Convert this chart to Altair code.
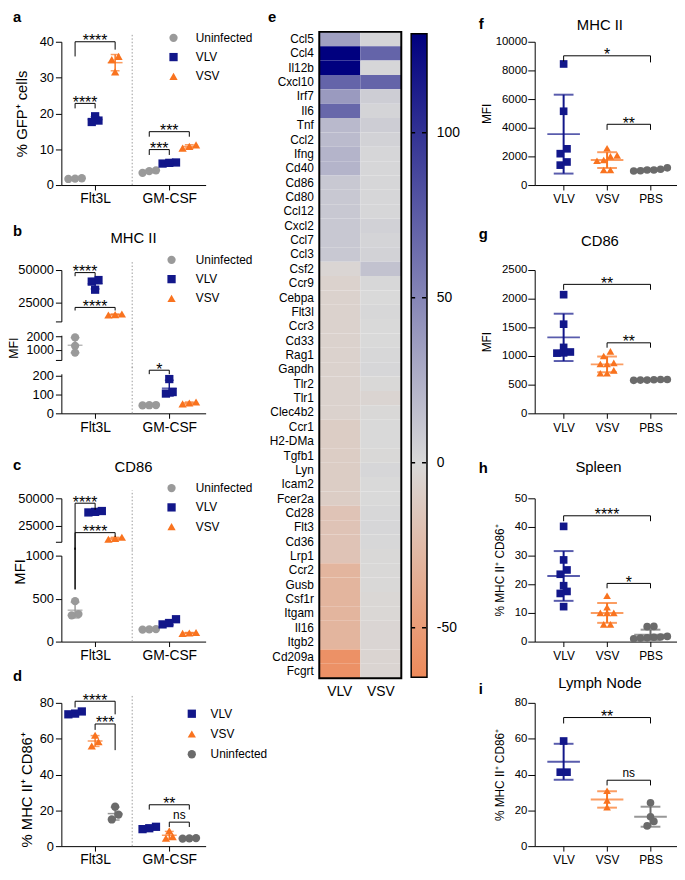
import altair as alt
import pandas as pd

FONT = "Liberation Sans"

# ================= values =================
GROUPS = ["Flt3L", "GM-CSF"]
ORDER_ABC = ["Uninfected", "VLV", "VSV"]
ORDER_D = ["VLV", "VSV", "Uninfected"]
MICE = ["VLV", "VSV", "PBS"]

# a: % GFP+ cells  (Flt3L replicates, GM-CSF replicates)
a_uninfected = ([1.7, 1.8, 1.9], [3.4, 3.9, 4.1])
a_vlv = ([19.2, 18.0, 17.6], [6.0, 6.2, 6.3])
a_vsv = ([35.9, 35.0, 31.6], [10.3, 10.8, 11.2])
a_brackets = [("Flt3L", "Uninfected", "VLV", 22.8, 21.4, 21.4, "****"),
              ("Flt3L", "Uninfected", "VSV", 40.0, 35.9, 37.8, "****"),
              ("GM-CSF", "Uninfected", "VLV", 9.9, 8.4, 8.4, "***"),
              ("GM-CSF", "Uninfected", "VSV", 14.9, 13.5, 13.5, "***")]

# b: MHC II MFI
b_uninfected = ([1940, 1310, 800], [44, 42, 43])
b_vlv = ([42200, 41000, 34700], [182, 113, 105])
b_vsv = ([15800, 15300, 15000], [60, 55, 50])
b_brackets = [("Flt3L", "Uninfected", "VLV", 48000, 45200, 45200, "****"),
              ("Flt3L", "Uninfected", "VSV", 20900, 18500, 18500, "****"),
              ("GM-CSF", "Uninfected", "VLV", 229, 208, 208, "*")]

# c: CD86 MFI
c_uninfected = ([470, 320, 305], [145, 140, 142])
c_vlv = ([38300, 37500, 37000], [260, 200, 215])
c_vsv = ([14200, 13000, 12300], [100, 106, 95])
c_brackets = [("Flt3L", "Uninfected", "VLV", 45500, 607, 39400, "****"),
              ("Flt3L", "Uninfected", "VSV", 18400, 607, 14400, "****")]

# d: % MHC II+ CD86+
d_vlv = ([75.2, 74.0, 73.6], [10.8, 10.0, 9.5])
d_vsv = ([61.9, 58.3, 55.9], [8.5, 5.3, 4.4])
d_uninfected = ([22.0, 17.6, 14.9], [4.5, 4.3, 4.2])
d_brackets = [("Flt3L", "VLV", "Uninfected", 80.9, 77.4, 73.6, "****"),
              ("Flt3L", "VSV", "Uninfected", 68.2, 64.9, 53.6, "***"),
              ("GM-CSF", "VLV", "Uninfected", 23.1, 20.4, 20.4, "**"),
              ("GM-CSF", "VSV", "Uninfected", 13.4, 10.7, 10.7, "ns")]

# e: heatmap
GENES = ["Ccl5", "Ccl4", "Il12b", "Cxcl10", "Irf7", "Il6", "Tnf", "Ccl2", "Ifng", "Cd40",
         "Cd86", "Cd80", "Ccl12", "Cxcl2", "Ccl7", "Ccl3", "Csf2", "Ccr9", "Cebpa", "Flt3l",
         "Ccr3", "Cd33", "Rag1", "Gapdh", "Tlr2", "Tlr1", "Clec4b2", "Ccr1", "H2-DMa", "Tgfb1",
         "Lyn", "Icam2", "Fcer2a", "Cd28", "Flt3", "Cd36", "Lrp1", "Ccr2", "Gusb", "Csf1r",
         "Itgam", "Il16", "Itgb2", "Cd209a", "Fcgrt"]
HEAT_VLV = [35, 130, 130, 70, 38, 68, 19, 18, 22, 22,
            10, 10, 10, 10, 10, 10, -3, -6, -6, -6,
            -6, -6, -6, -6, -6, -6, -6, -10, -10, -10,
            -10, -10, -10, -18, -18, -18, -18, -30, -30, -30,
            -30, -30, -30, -59, -59]
HEAT_VSV = [3, 70, 2, 70, 7, 3, 7, 4, 2, 2,
            2, 2, 2, 5, 3, 4, 14, 1, 0, 1,
            0, 0, 1, 2, -1, -4, -1, 0, 0, -1,
            2, 0, 0, 1, 2, 1, -1, -1, -1, -2,
            -2, -3, -3, -4, -4]
CB_DOMAIN = [-65, 130]
CB_TICKS = [-50, 0, 50, 100]

# f-i: in vivo
f_vlv = [8450, 5150, 2530, 2190, 1390, 1610]
f_vsv = [2570, 2070, 2000, 1750, 1700, 1050, 1050]
f_pbs = [1200, 1100, 1050, 1000, 980, 1050]
f_brackets = [("VLV", "PBS", 9020, 8630, 8560, "*"), ("VSV", "PBS", 4240, 3850, 3850, "**")]
g_vlv = [2070, 1555, 1150, 1070, 1050, 1055]
g_vsv = [1080, 1000, 880, 860, 860, 750, 700, 700]
g_pbs = [590, 580, 585, 575, 590, 580]
g_brackets = [("VLV", "PBS", 2250, 2155, 2155, "**"), ("VSV", "PBS", 1230, 1145, 1145, "**")]
h_vlv = [40.2, 28.5, 25.0, 23.5, 19.5, 17.5, 16.8, 12.2]
h_vsv = [16.0, 12.0, 10.0, 10.0, 10.0, 6.0, 6.0]
h_pbs = [5.3, 5.2, 1.8, 1.5, 1.3, 1.0, 1.2, 1.6]
h_brackets = [("VLV", "PBS", 43.9, 42.0, 42.0, "****"), ("VSV", "PBS", 20.3, 18.6, 18.6, "*")]
i_vlv = [58.7, 41.3, 41.3]
i_vsv = [30.9, 25.5, 21.8]
i_pbs = [24.2, 16.4, 13.8, 11.3]
i_brackets = [("VLV", "PBS", 71.8, 68.5, 68.5, "**"), ("VSV", "PBS", 36.8, 33.9, 33.9, "ns")]

# ================= styling / layout =================
NAVY, ORANGE = "#12178a", "#f9731f"
COLORS = {"Uninfected": "#9a9a9a", "VLV": NAVY, "VSV": ORANGE, "PBS": "#6b6b6b"}
COLORS_D = {"Uninfected": "#6b6b6b", "VLV": NAVY, "VSV": ORANGE}
SHAPES = {"Uninfected": "circle", "VLV": "square", "VSV": "triangle-up", "PBS": "circle"}
HEAT_RANGE = ["#ee8a5a", "#d9d9d9", "#00007f"]

PH = 145
GAP = 14
X_OFF = 0.27
LEFT = dict(width=146, xdom=[0.545, 2.49], xvals=[1, 2],
            xexpr="['Flt3L','GM-CSF'][datum.value - 1]", mean_w=15, cap_w=9, lw=1.5, pt=70,
            ytick=6, ylabpad=2, yfont=13, ytfont=15, xfont=14, xpad=2, sx=-54)
RIGHT = dict(width=144, xdom=[-0.666, 2.61], xvals=[0, 1, 2],
             xexpr="['VLV','VSV','PBS'][datum.value]", mean_w=33, cap_w=20, lw=2, pt=60,
             ytick=7, ylabpad=1, yfont=11.5, ytfont=12, xfont=12, xpad=4, sx=-67)

SP = pd.DataFrame({"k": [0]})


def txt(s, x, y, size, weight="normal", align="left"):
    return alt.Chart(SP).mark_text(text=s, font=FONT, fontSize=size, fontWeight=weight, align=align,
                                   baseline="alphabetic", color="black").encode(x=alt.value(x), y=alt.value(y))


def spacer(x, y, baseline="top"):
    return alt.Chart(SP).mark_text(text=" ", fontSize=1, align="left", baseline=baseline).encode(
        x=alt.value(x), y=alt.value(y))


def seg_index(y, segs):
    for i, s in enumerate(segs):
        if y >= s["lo"]:
            return i
    return len(segs) - 1


def split_vertical(x, ya, yb, segs):
    lo_v, hi_v = min(ya, yb), max(ya, yb)
    ia, ib = seg_index(lo_v, segs), seg_index(hi_v, segs)
    rows = []
    for i in range(ib, ia + 1):
        s = segs[i]
        ext = (GAP / 2 + 1) * (s["hi"] - s["lo"]) / s["h"]
        y1 = lo_v if i == ia else s["lo"] - ext
        y2 = hi_v if i == ib else s["hi"] + ext
        rows.append((i, x, y1, y2))
    return rows


def swarm(vals, ppu, xunit, dot=8.0):
    order = sorted(range(len(vals)), key=lambda k: vals[k])
    bins, cur = [], [order[0]]
    for k in order[1:]:
        if (vals[k] - vals[cur[0]]) * ppu < dot * 0.7:
            cur.append(k)
        else:
            bins.append(cur)
            cur = [k]
    bins.append(cur)
    off = [0.0] * len(vals)
    for b in bins:
        n = len(b)
        for j, k in enumerate(b):
            off[k] = (j - (n - 1) / 2) * dot * 0.85 / xunit
    return off


def left_x(group, cond, order):
    return GROUPS.index(group) + 1 + (order.index(cond) - 1) * X_OFF


def frames(entries, colors, segs, style, brk, sep_x=None):
    xunit = style["width"] / (style["xdom"][1] - style["xdom"][0])
    P, S, C = [], [], []
    for x0, vals, cond in entries:
        s = pd.Series(vals, dtype=float)
        m, sd = s.mean(), s.std()
        si = seg_index(m, segs)
        ppu = segs[si]["h"] / (segs[si]["hi"] - segs[si]["lo"])
        offs = swarm(vals, ppu, xunit)
        for v, o in zip(vals, offs):
            P.append(dict(seg=seg_index(v, segs), xp=x0 + o, v=v, cond=cond))
        S.append(dict(seg=si, x=x0, mean=m, lo=m - sd, hi=m + sd, col=colors[cond]))
        C.append(dict(seg=si, x=x0, yv=m - sd, col=colors[cond]))
        C.append(dict(seg=si, x=x0, yv=m + sd, col=colors[cond]))
    HB, LG, LB = [], [], []
    for x1, x2, y, e1, e2, lab in brk:
        si = seg_index(y, segs)
        HB.append(dict(seg=si, x1=x1, x2=x2, y=y))
        LB.append(dict(seg=si, xm=(x1 + x2) / 2, y=y, label=lab))
        for xx, ee in ((x1, e1), (x2, e2)):
            for sj, xv, y1, y2 in split_vertical(xx, ee, y, segs):
                LG.append(dict(seg=sj, x=xv, y1=y1, y2=y2))
    SEP = []
    if sep_x is not None:
        top = segs[0]
        ytop = top["hi"] + 8 * (top["hi"] - top["lo"]) / top["h"]
        for sj, xv, y1, y2 in split_vertical(sep_x, segs[-1]["lo"], ytop, segs):
            SEP.append(dict(seg=sj, x=xv, y1=y1, y2=y2))
    return {k: pd.DataFrame(v) for k, v in
            dict(P=P, S=S, C=C, HB=HB, LG=LG, LB=LB, SEP=SEP).items()}


def panel(fr, segs, style, order, colors, legend, ytitle, ytitle_seg, ytitle_x, ytitle_y,
          texts, top_y, bottom_pad, extra=(), ytfont=None):
    charts = []
    n = len(segs)
    for si, s in enumerate(segs):
        ysc = alt.Scale(domain=[s["lo"], s["hi"]], nice=False, zero=False)
        xsc = alt.Scale(domain=style["xdom"], nice=False, zero=False)
        if si == n - 1:
            xax = alt.Axis(values=style["xvals"], labelExpr=style["xexpr"], title=None, tickSize=5,
                           labelPadding=style["xpad"], labelFontSize=style["xfont"], labelAngle=0)
        else:
            xax = None
        kw = dict(values=s["ticks"], format="d", tickSize=style["ytick"], labelPadding=style["ylabpad"],
                  labelFontSize=s.get("yfont", style["yfont"]))
        if s.get("hidden"):
            kw["labelExpr"] = " || ".join(f"datum.value == {h}" for h in s["hidden"]) + " ? '' : datum.label"
        if si == ytitle_seg:
            kw.update(title=ytitle, titleFontSize=ytfont or style["ytfont"], titleX=ytitle_x,
                      titleFontWeight="normal")
            if ytitle_y is not None:
                kw["titleY"] = ytitle_y
        else:
            kw["title"] = None
        yax = alt.Axis(**kw)

        def X(f):
            return alt.X(f, type="quantitative", scale=xsc, axis=xax)

        def Y(f):
            return alt.Y(f, type="quantitative", scale=ysc, axis=yax)

        def sub(name):
            df = fr[name]
            if df.empty:
                return None
            d = df[df.seg == si]
            return None if d.empty else d

        L = []
        d = sub("SEP")
        if d is not None:
            L.append(alt.Chart(d).mark_rule(color="#9a9a9a", strokeWidth=1, strokeDash=[1.5, 2]).encode(
                x=X("x"), y=Y("y1"), y2="y2"))
        d = sub("P")
        leg = legend if si == 0 else None
        L.append(alt.Chart(d).mark_point(filled=True, size=style["pt"], opacity=1).encode(
            x=X("xp"), y=Y("v"),
            color=alt.Color("cond:N", scale=alt.Scale(domain=order, range=[colors[c] for c in order]), legend=leg),
            shape=alt.Shape("cond:N", scale=alt.Scale(domain=order, range=[SHAPES[c] for c in order]), legend=leg)))
        d = sub("S")
        if d is not None:
            L.append(alt.Chart(d).mark_rule(strokeWidth=style["lw"]).encode(
                x=X("x"), y=Y("lo"), y2="hi", color=alt.Color("col:N", scale=None)))
            L.append(alt.Chart(d).mark_tick(orient="horizontal", size=style["mean_w"], thickness=style["lw"]).encode(
                x=X("x"), y=Y("mean"), color=alt.Color("col:N", scale=None)))
        d = sub("C")
        if d is not None:
            L.append(alt.Chart(d).mark_tick(orient="horizontal", size=style["cap_w"], thickness=style["lw"]).encode(
                x=X("x"), y=Y("yv"), color=alt.Color("col:N", scale=None)))
        d = sub("HB")
        if d is not None:
            L.append(alt.Chart(d).mark_rule(color="black", strokeWidth=1).encode(x=X("x1"), x2="x2", y=Y("y")))
        d = sub("LG")
        if d is not None:
            L.append(alt.Chart(d).mark_rule(color="black", strokeWidth=1).encode(x=X("x"), y=Y("y1"), y2="y2"))
        d = sub("LB")
        if d is not None:
            stars = d[d.label != "ns"]
            ns = d[d.label == "ns"]
            if not stars.empty:
                L.append(alt.Chart(stars).mark_text(font=FONT, fontSize=16, dy=4.4, align="center",
                                                    baseline="alphabetic", color="black").encode(
                    x=X("xm"), y=Y("y"), text="label:N"))
            if not ns.empty:
                L.append(alt.Chart(ns).mark_text(font=FONT, fontSize=12, dy=-3.5, align="center",
                                                 baseline="alphabetic", color="black").encode(
                    x=X("xm"), y=Y("y"), text="label:N"))
        if si == 0:
            for t in texts:
                L.append(txt(*t))
            L.append(spacer(style["sx"], top_y))
            for ex in extra:
                L.append(spacer(*ex))
        if si == n - 1:
            L.append(spacer(style["sx"], s["h"] + bottom_pad, baseline="bottom"))
        charts.append(alt.layer(*L).properties(width=style["width"], height=s["h"]))
    if n == 1:
        return charts[0]
    return alt.vconcat(*charts, spacing=GAP, bounds="flush").resolve_scale(
        color="independent", shape="independent", x="independent", y="independent")


def legend(lx, ly, off, rp=7.5):
    return alt.Legend(orient="none", legendX=lx, legendY=ly, title=None, labelFontSize=12, labelFont=FONT,
                      labelColor="black", symbolSize=70, symbolStrokeWidth=0, rowPadding=rp,
                      labelOffset=off, padding=0)


def left_panel(series, order, colors, brk, segs, leg, ytitle, yseg, yx, yy, texts, top_y, bottom_pad,
               extra=(), ytfont=None):
    entries = []
    for cond in order:
        for gi, vals in enumerate(series[cond]):
            entries.append((left_x(GROUPS[gi], cond, order), vals, cond))
    b = [(left_x(g, c1, order), left_x(g, c2, order), y, e1, e2, lab) for g, c1, c2, y, e1, e2, lab in brk]
    fr = frames(entries, colors, segs, LEFT, b, sep_x=1.5)
    return panel(fr, segs, LEFT, order, colors, leg, ytitle, yseg, yx, yy, texts, top_y, bottom_pad, extra,
                 ytfont)


def right_panel(series, brk, segs, ytitle, yx, texts, top_y, bottom_pad):
    entries = [(MICE.index(c), series[c], c) for c in MICE]
    b = [(MICE.index(c1), MICE.index(c2), y, e1, e2, lab) for c1, c2, y, e1, e2, lab in brk]
    fr = frames(entries, COLORS, segs, RIGHT, b)
    return panel(fr, segs, RIGHT, MICE, COLORS, None, ytitle, 0, yx, None, texts, top_y, bottom_pad)


SUP = "\u207a"
Y_PCT = f"% MHC II{SUP} CD86{SUP}"

# ---------- left column ----------
pa = left_panel({"Uninfected": a_uninfected, "VLV": a_vlv, "VSV": a_vsv}, ORDER_ABC, COLORS, a_brackets,
                [dict(lo=0, hi=40, h=PH, ticks=[0, 10, 20, 30, 40])],
                legend(107.5, -10, 16.5), f"% GFP{SUP} cells", 0, -32, None,
                [("a", -49, -20, 15, "bold")], -36, 24, extra=[(207, 0)])
pb = left_panel({"Uninfected": b_uninfected, "VLV": b_vlv, "VSV": b_vsv}, ORDER_ABC, COLORS, b_brackets,
                [dict(lo=10000, hi=50000, h=52, ticks=[10000, 25000, 50000], hidden=[10000]),
                 dict(lo=250, hi=2100, h=25, ticks=[250, 1000, 2000], hidden=[250], yfont=12.5),
                 dict(lo=0, hi=210, h=40, ticks=[0, 100, 200])],
                legend(105.5, -16.3, 18.5), "MFI", 1, -41, None,
                [("b", -49, -34.5, 15, "bold"), ("MHC II", 73, -27.3, 15, "normal", "center")], -62, 24,
                ytfont=12.5)
pc = left_panel({"Uninfected": c_uninfected, "VLV": c_vlv, "VSV": c_vsv}, ORDER_ABC, COLORS, c_brackets,
                [dict(lo=10000, hi=50000, h=44, ticks=[10000, 25000, 50000], hidden=[10000]),
                 dict(lo=0, hi=1000, h=87, ticks=[0, 500, 1000])],
                legend(105.5, -16.3, 18.5), "MFI", 1, -34, 16,
                [("c", -49, -29, 15, "bold"), ("CD86", 73, -26.3, 15, "normal", "center")], -62, 24)
pd_ = left_panel({"VLV": d_vlv, "VSV": d_vsv, "Uninfected": d_uninfected}, ORDER_D, COLORS_D, d_brackets,
                 [dict(lo=0, hi=80, h=PH, ticks=[0, 20, 40, 60, 80])],
                 legend(126, 5, 13, 8.5), Y_PCT, 0, -27, PH / 2 + 15,
                 [("d", -49, -22.5, 15, "bold")], -38, 21)
left_col = alt.vconcat(pa, pb, pc, pd_, spacing=0).resolve_scale(
    color="independent", shape="independent", x="independent", y="independent")

# ---------- middle: heatmap ----------
# plot origin is aligned with the first row of panels; the heatmap starts 10 px above it
HW, HH, HTOP = 83, 644, -10
heat_df = pd.DataFrame({"gene": GENES + GENES,
                        "cond": ["VLV"] * len(GENES) + ["VSV"] * len(GENES),
                        "val": HEAT_VLV + HEAT_VSV})
cscale = alt.Scale(domain=[CB_DOMAIN[0], 0, CB_DOMAIN[1]], range=HEAT_RANGE, interpolate="rgb", clamp=True)
heat = alt.Chart(heat_df).mark_rect(strokeWidth=0).encode(
    x=alt.X("cond:N", sort=["VLV", "VSV"], scale=alt.Scale(paddingInner=0, paddingOuter=0),
            axis=alt.Axis(title=None, labelAngle=0, ticks=False, domain=False, labelFontSize=14, labelPadding=7)),
    y=alt.Y("gene:N", sort=GENES, scale=alt.Scale(paddingInner=0, paddingOuter=0, range=[HTOP, HH]),
            axis=alt.Axis(title=None, ticks=False, domain=False, labelFontSize=12, labelPadding=6)),
    color=alt.Color("val:Q", scale=cscale, legend=None))
border = alt.Chart(SP).mark_rect(filled=False, stroke="black", strokeWidth=2).encode(
    x=alt.value(0), x2=alt.value(HW), y=alt.value(HTOP), y2=alt.value(HH))
zero_off = (0 - CB_DOMAIN[0]) / (CB_DOMAIN[1] - CB_DOMAIN[0])
grad = alt.LinearGradient(gradient="linear", x1=0, x2=0, y1=1, y2=0,
                          stops=[alt.GradientStop(color=HEAT_RANGE[0], offset=0),
                                 alt.GradientStop(color=HEAT_RANGE[1], offset=zero_off),
                                 alt.GradientStop(color=HEAT_RANGE[2], offset=1)])
cbs = alt.Scale(domain=CB_DOMAIN, range=[HH - 1, HTOP + 2], nice=False, zero=False)
cbar = alt.Chart(pd.DataFrame({"lo": [CB_DOMAIN[0]], "hi": [CB_DOMAIN[1]]})).mark_rect(
    fill=grad, stroke="black", strokeWidth=1.5).encode(
    x=alt.value(93), x2=alt.value(109), y=alt.Y("lo:Q", scale=cbs, axis=None), y2="hi:Q")
tick_df = pd.DataFrame({"t": CB_TICKS, "lab": [str(t) for t in CB_TICKS]})
cticks = alt.Chart(tick_df).mark_rule(color="black", strokeWidth=1.5, strokeDash=[4, 7]).encode(
    x=alt.value(93), x2=alt.value(109), y=alt.Y("t:Q", scale=cbs, axis=None))
clabels = alt.Chart(tick_df).mark_text(font=FONT, fontSize=14, align="left", baseline="middle",
                                       color="black").encode(
    x=alt.value(119), y=alt.Y("t:Q", scale=cbs, axis=None), text="lab:N")
mid_layer = alt.layer(heat, border, cbar, cticks, clabels, txt("e", -52, -20, 15, "bold"),
                      spacer(-52, -30), spacer(151, -30)).resolve_scale(y="independent").properties(
    width=HW, height=HH)
mid = alt.vconcat(mid_layer, spacing=0)

# ---------- right column ----------
pf = right_panel({"VLV": f_vlv, "VSV": f_vsv, "PBS": f_pbs}, f_brackets,
                 [dict(lo=0, hi=10000, h=PH, ticks=[0, 2000, 4000, 6000, 8000, 10000])], "MFI", -42,
                 [("f", -56.5, -13.2, 15, "bold"), ("MHC II", 66, -11.6, 15, "normal", "center")], -36, 24)
pg = right_panel({"VLV": g_vlv, "VSV": g_vsv, "PBS": g_pbs}, g_brackets,
                 [dict(lo=0, hi=2500, h=PH, ticks=[0, 500, 1000, 1500, 2000, 2500])], "MFI", -42,
                 [("g", -56.5, -31, 15, "bold"), ("CD86", 66, -24.3, 15, "normal", "center")], -62, 24)
ph = right_panel({"VLV": h_vlv, "VSV": h_vsv, "PBS": h_pbs}, h_brackets,
                 [dict(lo=0, hi=50, h=PH, ticks=[0, 10, 20, 30, 40, 50])], Y_PCT, -29,
                 [("h", -56.5, -25.8, 15, "bold"), ("Spleen", 64.5, -26.6, 15, "normal", "center")], -62, 24)
pi = right_panel({"VLV": i_vlv, "VSV": i_vsv, "PBS": i_pbs}, i_brackets,
                 [dict(lo=0, hi=80, h=PH, ticks=[0, 20, 40, 60, 80])], Y_PCT, -29,
                 [("i", -56.5, -9.3, 15, "bold"), ("Lymph Node", 66, -15.3, 15, "normal", "center")], -38, 21)
right_col = alt.vconcat(pf, pg, ph, pi, spacing=0).resolve_scale(
    color="independent", shape="independent", x="independent", y="independent")

chart = alt.hconcat(left_col, mid, right_col, spacing=0).resolve_scale(
    color="independent", shape="independent", x="independent", y="independent"
).properties(
    padding={"left": 0, "top": -7, "right": 0, "bottom": 0}
).configure(font=FONT).configure_view(stroke=None).configure_axis(
    grid=False, domainColor="black", tickColor="black", labelColor="black", titleColor="black",
    labelFont=FONT, titleFont=FONT, titleFontWeight="normal", domainWidth=1, tickWidth=1
).configure_legend(labelFont=FONT, labelColor="black")

chart.save("out.html", embed_options={"renderer": "svg", "actions": False})
